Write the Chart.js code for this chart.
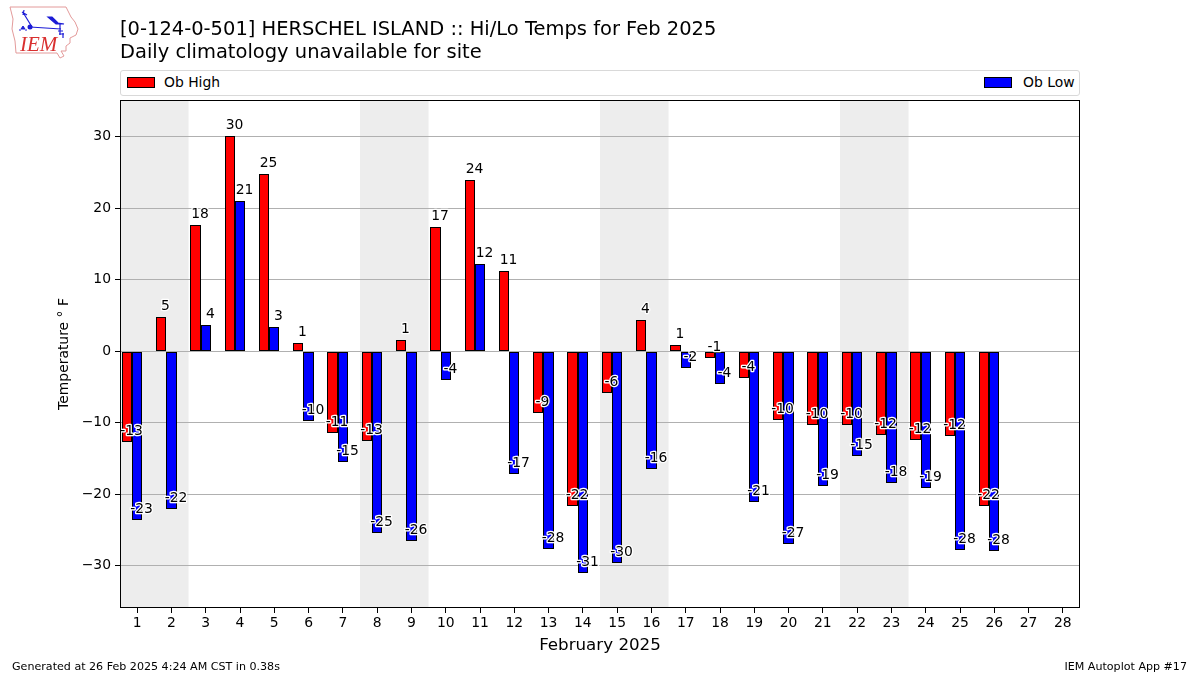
<!DOCTYPE html>
<html>
<head>
<meta charset="utf-8">
<title>Hi/Lo Temps</title>
<script src="https://cdn.jsdelivr.net/npm/chart.js@4/dist/chart.umd.min.js"></script>
<style>
    html, body { margin: 0; padding: 0; background: #fff; }
    body { width: 1200px; height: 675px; position: relative; overflow: hidden; font-family: "DejaVu Sans", sans-serif; color: #000; }
    canvas { position: absolute; left: 0; top: 0; }
    .txt { position: absolute; white-space: nowrap; }
    #title { left: 120px; top: 18px; font-size: 19.48px; line-height: 22.5px; }
    #legend { position: absolute; left: 120px; top: 70px; width: 958px; height: 24px; border: 1px solid #d9d9d9; border-radius: 3px; background: #fff; }
    .swatch { position: absolute; top: 6px; width: 26px; height: 9px; border: 1px solid #000; }
    .legtxt { position: absolute; top: 3px; font-size: 13.9px; line-height: 16px; }
    #footL { left: 12px; top: 660px; font-size: 11.1px; line-height: 13px; }
    #footR { right: 13px; top: 660px; font-size: 11.1px; line-height: 13px; }
    #logo { position: absolute; left: 8px; top: 5px; }
</style>
</head>
<body>
<canvas id="myChart" width="1200" height="675"></canvas>

<svg id="logo" width="72" height="54" viewBox="0 0 72 54">
    <path d="M2 2 L58 2 L60 6 L63 12 L67 17 L70 24 L68 30 L62 33 L62 38 L58 41 L58 46 L53 46 L56 51 L52 53 L49 48 L8 48 L7 36 L4 24 L5 14 Z" fill="#fff" stroke="#e39a9a" stroke-width="1"/>
    <path d="M14 7 L19 10 M16 5 L15 10 M16 9 L24 22" fill="none" stroke="#1c1cd6" stroke-width="1.2"/>
    <circle cx="22" cy="22" r="2.5" fill="#1c1cd6"/>
    <path d="M22 22 L53 24 M40 12 L44 12 L50 18 L56 19 L48 19 Z M52 19 L52 30 M50 26 L55 26 M51 29 L56 29 M55 28 L55 33" fill="#1c1cd6" stroke="#1c1cd6" stroke-width="1.2"/>
    <path d="M15 21 L13 24 L17 24 Z M11 25 h2 M17 25 h2" fill="#1c1cd6" stroke="#1c1cd6" stroke-width="1"/>
    <text x="12" y="46" font-family="Liberation Serif" font-style="italic" font-size="21" fill="#d93030">IEM</text>
</svg>

<div id="title" class="txt">[0-124-0-501] HERSCHEL ISLAND :: Hi/Lo Temps for Feb 2025<br>Daily climatology unavailable for site</div>

<div id="legend">
    <div class="swatch" style="left:6px;background:#ff0000"></div>
    <div class="legtxt" style="left:43px">Ob High</div>
    <div class="swatch" style="left:863px;background:#0000ff"></div>
    <div class="legtxt" style="left:902px">Ob Low</div>
</div>

<div id="footL" class="txt">Generated at 26 Feb 2025 4:24 AM CST in 0.38s</div>
<div id="footR" class="txt">IEM Autoplot App #17</div>

<script>
var days = ["1", "2", "3", "4", "5", "6", "7", "8", "9", "10", "11", "12", "13", "14", "15", "16", "17", "18", "19", "20", "21", "22", "23", "24", "25", "26", "27", "28"];
var obHigh = [-12.7, 4.8, 17.6, 30.0, 24.8, 1.2, -11.4, -12.5, 1.5, 17.3, 23.9, 11.2, -8.6, -21.6, -5.8, 4.4, 0.9, -1.0, -3.8, -9.6, -10.3, -10.3, -11.7, -12.4, -11.9, -21.7, null, null];
var obLow = [-23.6, -22.0, 3.7, 21.0, 3.4, -9.7, -15.5, -25.4, -26.5, -4.0, 12.2, -17.2, -27.6, -31.0, -29.6, -16.5, -2.3, -4.6, -21.1, -27.0, -18.9, -14.6, -18.4, -19.1, -27.8, -27.9, null, null];
// labels printed on the bars, rounded by the source so kept separately
var highLabels = ["-13", "5", "18", "30", "25", "1", "-11", "-13", "1", "17", "24", "11", "-9", "-22", "-6", "4", "1", "-1", "-4", "-10", "-10", "-10", "-12", "-12", "-12", "-22", "", ""];
var lowLabels = ["-23", "-22", "4", "21", "3", "-10", "-15", "-25", "-26", "-4", "12", "-17", "-28", "-31", "-30", "-16", "-2", "-4", "-21", "-27", "-19", "-15", "-18", "-19", "-28", "-28", "", ""];
var yTicks = [-30, -20, -10, 0, 10, 20, 30];
var weekends = [["1", "2"], ["8", "9"], ["15", "16"], ["22", "23"]];
var yMin = -35.9;
var yMax = 35.1;

var font = "'DejaVu Sans'";

// grey bands behind the weekends
var weekendBands = {
    id: "weekendBands",
    beforeDraw: function (chart) {
        var ctx = chart.ctx, x = chart.scales.x, area = chart.chartArea;
        var half = (x.getPixelForValue(1) - x.getPixelForValue(0)) / 2;
        ctx.save();
        ctx.fillStyle = "#ededed";
        weekends.forEach(function (w) {
            var a = x.getPixelForValue(days.indexOf(w[0])) - half;
            var b = x.getPixelForValue(days.indexOf(w[1])) + half;
            ctx.fillRect(a, area.top, b - a, area.bottom - area.top);
        });
        ctx.restore();
    }
};

// snap bar edges to whole pixels so the black outline stays crisp
var snapBars = {
    id: "snapBars",
    beforeDatasetsDraw: function (chart) {
        [0, 1].forEach(function (i) {
            chart.getDatasetMeta(i).data.forEach(function (bar) {
                var l = Math.round(bar.x - bar.width / 2);
                var r = Math.round(bar.x + bar.width / 2);
                bar.x = (l + r) / 2;
                bar.width = r - l;
                bar.y = Math.round(bar.y);
                bar.base = Math.round(bar.base);
            });
        });
    }
};

// value labels with a white halo, and the frame around the axes
var barLabels = {
    id: "barLabels",
    afterDatasetsDraw: function (chart) {
        var ctx = chart.ctx;
        ctx.save();
        ctx.font = "13.9px " + font;
        ctx.textAlign = "center";
        ctx.textBaseline = "alphabetic";
        ctx.lineJoin = "round";
        [highLabels, lowLabels].forEach(function (labels, i) {
            var meta = chart.getDatasetMeta(i);
            labels.forEach(function (txt, j) {
                if (txt === "") return;
                var bar = meta.data[j];
                ctx.strokeStyle = "#fff";
                ctx.lineWidth = 2.6;
                ctx.strokeText(txt, bar.x + 4.5, bar.y - 7);
                ctx.fillStyle = "#000";
                ctx.fillText(txt, bar.x + 4.5, bar.y - 7);
            });
        });
        ctx.restore();
    },
    afterDraw: function (chart) {
        var ctx = chart.ctx, area = chart.chartArea;
        ctx.save();
        ctx.strokeStyle = "#000";
        ctx.lineWidth = 1;
        ctx.strokeRect(Math.round(area.left) + 0.5, Math.round(area.top) + 0.5, Math.round(area.right - area.left) - 1, Math.round(area.bottom - area.top) - 1);
        ctx.restore();
    }
};

var myChart = new Chart(document.getElementById("myChart"), {
    type: "bar",
    data: {
        labels: days,
        datasets: [{
            label: "Ob High",
            data: obHigh,
            backgroundColor: "#ff0000",
            borderColor: "#000000",
            borderWidth: 1,
            borderSkipped: false,
            categoryPercentage: 0.9,
            barPercentage: 1.0
        }, {
            label: "Ob Low",
            data: obLow,
            backgroundColor: "#0000ff",
            borderColor: "#000000",
            borderWidth: 1,
            borderSkipped: false,
            categoryPercentage: 0.9,
            barPercentage: 1.0
        }, {
            // climatology series: no data for this site, still holds its slot in the group
            label: "Climatology",
            data: [],
            categoryPercentage: 0.9,
            barPercentage: 1.0
        }]
    },
    options: {
        responsive: false,
        animation: false,
        layout: { padding: { top: 100, right: 120, left: 0, bottom: 0 } },
        plugins: {
            legend: { display: false },
            title: { display: false },
            tooltip: { enabled: false }
        },
        scales: {
            x: {
                grid: { offset: false, drawOnChartArea: false, drawTicks: true, tickLength: 5, tickColor: "#000", tickWidth: 1 },
                border: { display: false },
                ticks: { color: "#000", font: { family: font, size: 13.9 }, padding: 2, maxRotation: 0, autoSkip: false },
                title: { display: true, text: "February 2025", color: "#000", font: { family: font, size: 16.7 }, padding: { top: 3, bottom: 19 } },
                afterFit: function (scale) { scale.height = 67; }
            },
            y: {
                min: yMin,
                max: yMax,
                afterBuildTicks: function (axis) {
                    axis.ticks = yTicks.map(function (v) { return { value: v }; });
                },
                grid: { color: "#b0b0b0", lineWidth: 1, tickLength: 5, tickColor: "#000", drawTicks: true },
                border: { display: false },
                ticks: {
                    color: "#000",
                    font: { family: font, size: 13.9 },
                    padding: 4,
                    callback: function (v) { return String(v).replace("-", "\u2212"); }
                },
                title: { display: true, text: "Temperature \u00B0 F", color: "#000", font: { family: font, size: 13.9 }, padding: { top: 56, bottom: 0 } },
                afterFit: function (scale) { scale.width = 120; }
            }
        }
    },
    plugins: [weekendBands, snapBars, barLabels]
});
</script>
</body>
</html>
